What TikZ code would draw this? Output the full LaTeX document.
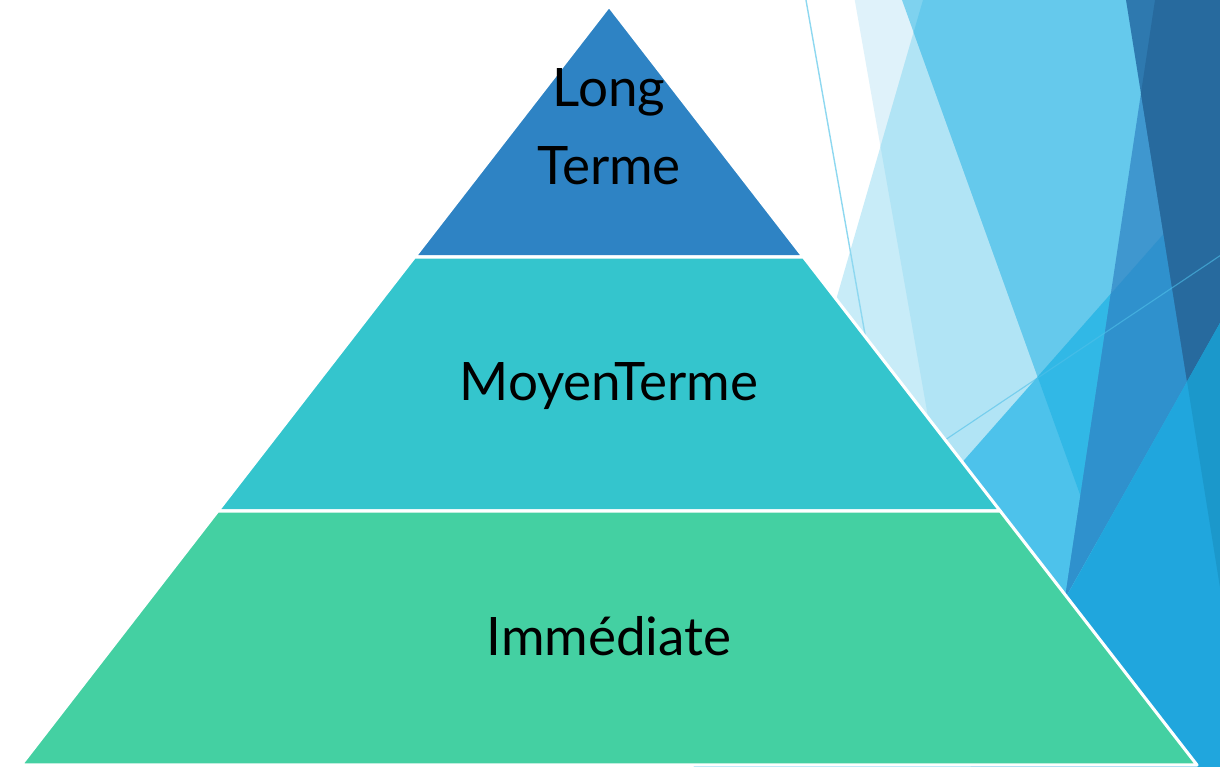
\documentclass[tikz,border=0pt]{standalone}
\usepackage{fontspec}
\setmainfont{Lato}
\definecolor{facA}{HTML}{DFF2FA}
\definecolor{facB}{HTML}{C8ECF8}
\definecolor{facAB}{HTML}{B1E4F5}
\definecolor{facAC}{HTML}{7ED2EF}
\definecolor{facABC}{HTML}{65C9EC}
\definecolor{facD}{HTML}{4DC2EB}
\definecolor{facCD}{HTML}{31B8E6}
\definecolor{facE}{HTML}{2E79AF}
\definecolor{facF}{HTML}{3F97CF}
\definecolor{facDF}{HTML}{2F91CD}
\definecolor{facEF}{HTML}{276A9E}
\definecolor{facG}{HTML}{20A6DD}
\definecolor{facEG}{HTML}{1B98CB}
\definecolor{facLine}{HTML}{8ED8F0}
\definecolor{facLineB}{HTML}{4FC0E9}
\definecolor{tierTop}{HTML}{2E83C4}
\definecolor{tierMid}{HTML}{34C5CD}
\definecolor{tierLow}{HTML}{44D0A2}
\begin{document}
\begin{tikzpicture}[x=0.025cm,y=-0.025cm,
  tier/.style={draw=white,line width=2.2pt,line join=round},
  tierlabel/.style={anchor=base,align=center,inner sep=0pt,
    font=\fontsize{37.7}{54.8}\selectfont}]
\useasboundingbox (0,0) rectangle (1220,766.4);
\fill[white] (0,0) rectangle (1220,767);
% facets behind the pyramid
\fill[facA] (853,-10) -- (991.8,780) -- (1230,780) -- (1230,-10) -- cycle;
\fill[facB] (923,0) -- (696.8,780) -- (1230,780) -- (1230,-10) -- (925.9,-10) -- cycle;
\begin{scope}
  \clip (853,-10) -- (991.8,780) -- (1230,780) -- (1230,-10) -- cycle;
  \fill[facAB] (923,0) -- (696.8,780) -- (1230,780) -- (1230,-10) -- (925.9,-10) -- cycle;
  \fill[facAC] (902,0) -- (1182.8,780) -- (1230,780) -- (1230,-10) -- (898.4,-10) -- cycle;
\end{scope}
\begin{scope}
  \clip (923,0) -- (696.8,780) -- (1230,780) -- (1230,-10) -- (925.9,-10) -- cycle;
  \fill[facABC] (902,0) -- (1182.8,780) -- (1230,780) -- (1230,-10) -- (898.4,-10) -- cycle;
\end{scope}
\fill[facD] (1230,158.7) -- (682,780) -- (1230,780) -- cycle;
\begin{scope}
  \clip (1230,158.7) -- (682,780) -- (1230,780) -- cycle;
  \fill[facCD] (902,0) -- (1182.8,780) -- (1230,780) -- (1230,-10) -- (898.4,-10) -- cycle;
\end{scope}
\fill[facF] (1156.5,-10) -- (1065,598) -- (1230,305.2) -- (1230,-10) -- cycle;
\begin{scope}
  \clip (1156.5,-10) -- (1065,598) -- (1230,305.2) -- (1230,-10) -- cycle;
  \fill[facDF] (1230,158.7) -- (682,780) -- (1230,780) -- cycle;
\end{scope}
\fill[facE] (1124.4,-10) -- (1230,650) -- (1230,-10) -- cycle;
\begin{scope}
  \clip (1124.4,-10) -- (1230,650) -- (1230,-10) -- cycle;
  \fill[facEF] (1156.5,-10) -- (1065,598) -- (1230,305.2) -- (1230,-10) -- cycle;
\end{scope}
\fill[facG] (1230,305.2) -- (963.2,780) -- (1230,780) -- cycle;
\begin{scope}
  \clip (1124.4,-10) -- (1230,650) -- (1230,780) -- (1230,-10) -- cycle;
  \fill[facEG] (1230,305.2) -- (963.2,780) -- (1230,780) -- cycle;
\end{scope}
\draw[facLine,line width=1pt] (804.2,-10) -- (866,340);
\draw[facLineB,line width=0.8pt,opacity=0.6] (945,440) -- (1230,249);
% pyramid
\foreach \ya/\yb/\col in {6/257/tierTop,257/511/tierMid,511/765/tierLow} {
  \filldraw[tier,fill=\col] ({609-0.7747*(\ya-6)},\ya) -- ({609+0.7747*(\ya-6)},\ya)
    -- ({609+0.7747*(\yb-6)},\yb) -- ({609-0.7747*(\yb-6)},\yb) -- cycle;
}
\node[tierlabel] (long) at (609,184) {Long\\Terme};
\node[tierlabel] (moyen) at (609,400) {MoyenTerme};
\node[tierlabel] (immediate) at (609,655) {Immédiate};
\end{tikzpicture}
\end{document}
